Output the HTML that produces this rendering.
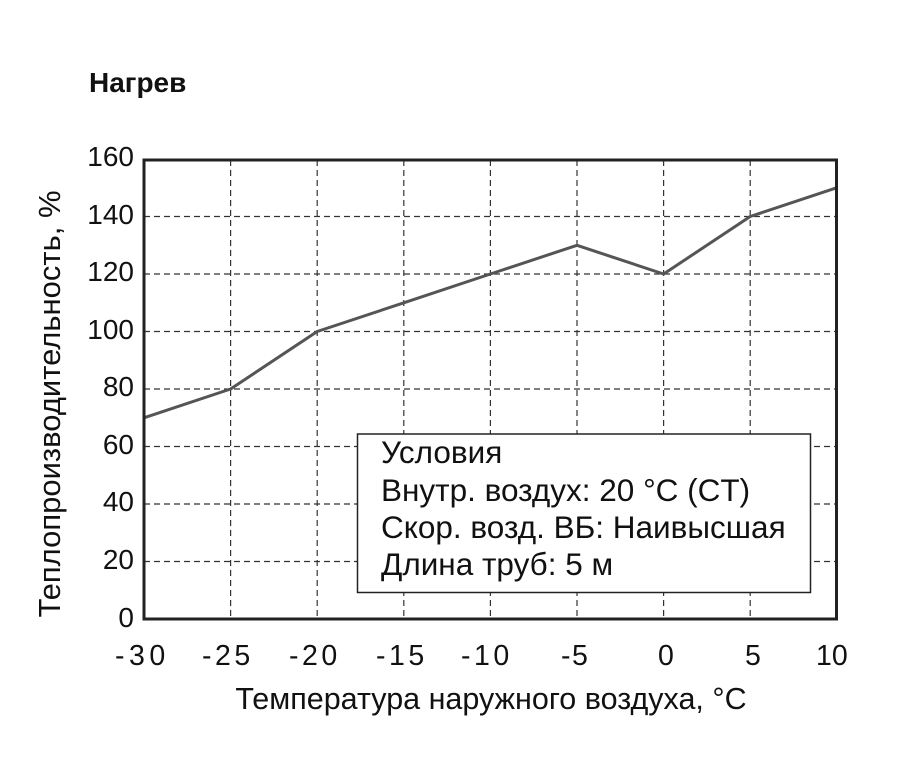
<!DOCTYPE html>
<html><head><meta charset="utf-8"><style>
html,body{margin:0;padding:0;background:#fff;}
svg{display:block;}
text{font-family:"Liberation Sans",Arial,sans-serif;fill:#111;}
</style></head><body>
<svg width="900" height="758" viewBox="0 0 900 758" xmlns="http://www.w3.org/2000/svg">
<rect width="900" height="758" fill="#fff"/>
<text x="89" y="92" font-size="28" font-weight="bold">Нагрев</text>
<g stroke="#333" stroke-width="1.2" stroke-dasharray="6,4" fill="none">
<line x1="230.6" y1="160" x2="230.6" y2="619"/>
<line x1="317.2" y1="160" x2="317.2" y2="619"/>
<line x1="403.8" y1="160" x2="403.8" y2="619"/>
<line x1="490.4" y1="160" x2="490.4" y2="619"/>
<line x1="577" y1="160" x2="577" y2="619"/>
<line x1="663.6" y1="160" x2="663.6" y2="619"/>
<line x1="750.2" y1="160" x2="750.2" y2="619"/>
<line x1="144" y1="216.5" x2="836.5" y2="216.5"/>
<line x1="144" y1="274" x2="836.5" y2="274"/>
<line x1="144" y1="331.5" x2="836.5" y2="331.5"/>
<line x1="144" y1="389" x2="836.5" y2="389"/>
<line x1="144" y1="446.5" x2="836.5" y2="446.5"/>
<line x1="144" y1="504" x2="836.5" y2="504"/>
<line x1="144" y1="561.5" x2="836.5" y2="561.5"/>
</g>
<polyline fill="none" stroke="#555" stroke-width="3" stroke-linejoin="round"
points="144,417.8 230.6,389 317.2,331.5 403.8,302.8 490.4,274 577,245.3 663.6,274 750.2,216.5 836.5,187.8"/>
<rect x="144" y="160" width="692.5" height="459" fill="none" stroke="#222" stroke-width="3"/>
<rect x="357.5" y="434" width="453" height="158.5" fill="#fff" stroke="#222" stroke-width="1.5"/>
<g font-size="31.5">
<text x="381" y="463">Условия</text>
<text x="381" y="501">Внутр. воздух: 20 °C (CT)</text>
<text x="381" y="538">Скор. возд. ВБ: Наивысшая</text>
<text x="381" y="575">Длина труб: 5 м</text>
</g>
<g font-size="28" text-anchor="end">
<text x="134" y="166">160</text>
<text x="134" y="224">140</text>
<text x="134" y="281">120</text>
<text x="134" y="339">100</text>
<text x="134" y="396">80</text>
<text x="134" y="454">60</text>
<text x="134" y="511">40</text>
<text x="134" y="569">20</text>
<text x="134" y="627">0</text>
</g>
<g font-size="28.5">
<text x="115" y="665" letter-spacing="4.5">-30</text>
<text x="202" y="665" letter-spacing="3.5">-25</text>
<text x="289" y="665" letter-spacing="3.5">-20</text>
<text x="376" y="665" letter-spacing="3.5">-15</text>
<text x="461" y="665" letter-spacing="3.5">-10</text>
<text x="561" y="665" letter-spacing="1.5">-5</text>
<text x="658" y="665">0</text>
<text x="745" y="665">5</text>
<text x="816" y="665">10</text>
</g>
<text x="491" y="709" font-size="30.5" text-anchor="middle">Температура наружного воздуха, °C</text>
<text transform="translate(60,404) rotate(-90)" font-size="31" text-anchor="middle">Теплопроизводительность, %</text>
</svg>
</body></html>
